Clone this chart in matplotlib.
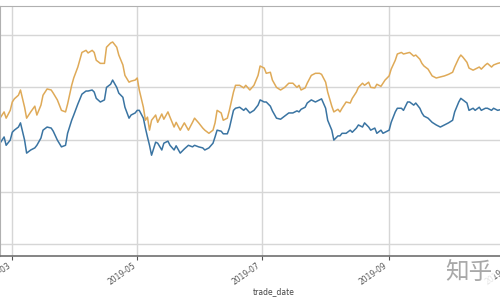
import pandas as pd
import matplotlib
matplotlib.use("Agg")
import matplotlib.pyplot as plt
import matplotlib.dates as mdates

# trade dates and the two series
trade_date = [
    "2019-02-23", "2019-02-25", "2019-02-26", "2019-02-28", "2019-03-01", "2019-03-02", "2019-03-04", "2019-03-05", "2019-03-07", "2019-03-08",
    "2019-03-10", "2019-03-12", "2019-03-13", "2019-03-15", "2019-03-16", "2019-03-18", "2019-03-20", "2019-03-21", "2019-03-23", "2019-03-25",
    "2019-03-27", "2019-03-28", "2019-03-30", "2019-03-31", "2019-04-02", "2019-04-04", "2019-04-06", "2019-04-07", "2019-04-09", "2019-04-10",
    "2019-04-11", "2019-04-13", "2019-04-15", "2019-04-16", "2019-04-18", "2019-04-19", "2019-04-21", "2019-04-22", "2019-04-24", "2019-04-25",
    "2019-04-27", "2019-04-28", "2019-04-30", "2019-05-01", "2019-05-02", "2019-05-04", "2019-05-05", "2019-05-06", "2019-05-07", "2019-05-08",
    "2019-05-10", "2019-05-11", "2019-05-13", "2019-05-14", "2019-05-16", "2019-05-17", "2019-05-19", "2019-05-20", "2019-05-22", "2019-05-24",
    "2019-05-26", "2019-05-28", "2019-05-29", "2019-05-31", "2019-06-02", "2019-06-03", "2019-06-05", "2019-06-07", "2019-06-08", "2019-06-09",
    "2019-06-11", "2019-06-12", "2019-06-14", "2019-06-15", "2019-06-17", "2019-06-18", "2019-06-20", "2019-06-22", "2019-06-23", "2019-06-25",
    "2019-06-27", "2019-06-29", "2019-06-30", "2019-07-02", "2019-07-03", "2019-07-05", "2019-07-06", "2019-07-08", "2019-07-10", "2019-07-12",
    "2019-07-14", "2019-07-16", "2019-07-18", "2019-07-19", "2019-07-20", "2019-07-22", "2019-07-23", "2019-07-25", "2019-07-27", "2019-07-29",
    "2019-07-30", "2019-08-01", "2019-08-02", "2019-08-04", "2019-08-05", "2019-08-07", "2019-08-08", "2019-08-09", "2019-08-11", "2019-08-13",
    "2019-08-14", "2019-08-16", "2019-08-17", "2019-08-19", "2019-08-20", "2019-08-22", "2019-08-23", "2019-08-25", "2019-08-26", "2019-08-28",
    "2019-08-29", "2019-08-30", "2019-09-01", "2019-09-02", "2019-09-04", "2019-09-05", "2019-09-07", "2019-09-08", "2019-09-10", "2019-09-11",
    "2019-09-13", "2019-09-14", "2019-09-16", "2019-09-17", "2019-09-18", "2019-09-20", "2019-09-22", "2019-09-24", "2019-09-26", "2019-09-28",
    "2019-09-30", "2019-10-02", "2019-10-03", "2019-10-05", "2019-10-06", "2019-10-07", "2019-10-09", "2019-10-10", "2019-10-12", "2019-10-13",
    "2019-10-15", "2019-10-16", "2019-10-18", "2019-10-19", "2019-10-21", "2019-10-22", "2019-10-24", "2019-10-26",
]

upper = [
    2.41, 2.53, 2.41, 2.56, 2.72, 2.78, 2.85, 2.95, 2.62, 2.41,
    2.53, 2.64, 2.47, 2.66, 2.85, 2.97, 2.95, 2.89, 2.76, 2.56,
    2.53, 2.68, 3.04, 3.18, 3.39, 3.67, 3.71, 3.66, 3.71, 3.67,
    3.52, 3.46, 3.46, 3.77, 3.85, 3.87, 3.77, 3.62, 3.43, 3.23,
    3.10, 3.12, 3.14, 3.18, 2.95, 2.62, 2.37, 2.43, 2.18, 2.37,
    2.47, 2.33, 2.49, 2.39, 2.53, 2.43, 2.24, 2.33, 2.18, 2.32,
    2.18, 2.33, 2.41, 2.32, 2.22, 2.18, 2.12, 2.18, 2.32, 2.56,
    2.51, 2.37, 2.41, 2.56, 2.91, 3.04, 3.04, 2.99, 3.04, 2.95,
    3.04, 3.23, 3.41, 3.37, 3.27, 3.29, 3.14, 3.00, 2.95, 3.00,
    3.08, 3.08, 3.00, 3.04, 2.95, 2.99, 3.08, 3.23, 3.27, 3.27,
    3.25, 3.10, 2.91, 2.64, 2.53, 2.58, 2.53, 2.60, 2.72, 2.70,
    2.79, 2.91, 3.00, 3.08, 3.04, 3.10, 3.00, 2.99, 3.06, 3.02,
    3.08, 3.14, 3.22, 3.35, 3.52, 3.64, 3.67, 3.64, 3.66, 3.67,
    3.60, 3.62, 3.54, 3.46, 3.41, 3.35, 3.22, 3.18, 3.20, 3.22,
    3.25, 3.29, 3.39, 3.56, 3.62, 3.58, 3.48, 3.37, 3.33, 3.35,
    3.39, 3.35, 3.43, 3.46, 3.39, 3.43, 3.46, 3.48,
]

lower = [
    1.93, 2.05, 1.89, 1.99, 2.14, 2.18, 2.24, 2.32, 1.99, 1.74,
    1.80, 1.84, 1.89, 2.03, 2.18, 2.24, 2.22, 2.16, 1.99, 1.86,
    1.89, 2.12, 2.37, 2.47, 2.68, 2.87, 2.93, 2.93, 2.95, 2.91,
    2.79, 2.72, 2.76, 3.00, 3.06, 3.14, 3.00, 2.89, 2.81, 2.62,
    2.41, 2.47, 2.51, 2.56, 2.56, 2.41, 2.22, 2.05, 1.89, 1.70,
    1.95, 1.93, 1.80, 1.93, 1.97, 1.89, 1.80, 1.88, 1.74, 1.82,
    1.89, 1.86, 1.89, 1.86, 1.84, 1.80, 1.84, 1.93, 2.05, 2.18,
    2.16, 2.11, 2.11, 2.22, 2.56, 2.60, 2.62, 2.56, 2.60, 2.51,
    2.56, 2.66, 2.76, 2.72, 2.72, 2.64, 2.55, 2.41, 2.39, 2.45,
    2.51, 2.51, 2.55, 2.53, 2.58, 2.62, 2.70, 2.76, 2.72, 2.76,
    2.78, 2.60, 2.37, 2.18, 1.99, 2.07, 2.07, 2.12, 2.12, 2.18,
    2.14, 2.22, 2.28, 2.24, 2.32, 2.24, 2.18, 2.22, 2.12, 2.18,
    2.12, 2.14, 2.18, 2.33, 2.53, 2.60, 2.60, 2.56, 2.72, 2.72,
    2.66, 2.70, 2.60, 2.51, 2.45, 2.41, 2.33, 2.28, 2.24, 2.28,
    2.32, 2.37, 2.53, 2.72, 2.79, 2.76, 2.70, 2.56, 2.60, 2.56,
    2.62, 2.56, 2.60, 2.60, 2.56, 2.60, 2.56, 2.58,
]

month_ticks = ["2019-03-01", "2019-05-01", "2019-07-01", "2019-09-01", "2019-11-01"]

df = pd.DataFrame({"trade_date": pd.to_datetime(trade_date), "upper": upper, "lower": lower})

fig = plt.figure(figsize=(5, 3), dpi=100)
# the picture is a crop: the axes run past the right edge of the image
ax = fig.add_axes([0.0, 0.147, 1.065, 0.833])

ax.plot(df["trade_date"], df["upper"], color="#dfaa58", lw=1.1)
ax.plot(df["trade_date"], df["lower"], color="#3a74a2", lw=1.1)

ax.set_xlim(pd.Timestamp("2019-02-23"), pd.Timestamp("2019-11-10"))
ax.set_ylim(-0.23, 4.56)
ax.set_yticks([0, 1, 2, 3, 4])
ax.set_xticks(pd.to_datetime(month_ticks))
ax.xaxis.set_major_formatter(mdates.DateFormatter("%Y-%m"))
ax.grid(True, color="#d6d6d6", lw=1.0)
ax.set_axisbelow(True)

for lab in ax.get_xticklabels():
    lab.set_rotation(35)
    lab.set_ha("right")
    lab.set_fontsize(5.5)
    lab.set_color("#555555")
ax.tick_params(axis="x", length=3, width=0.8, color="#555555", pad=1)
ax.tick_params(axis="y", length=0, labelleft=False)

for s in ["top", "left", "right"]:
    ax.spines[s].set_color("#b0b0b0")
ax.spines["bottom"].set_color("#707070")
ax.spines["bottom"].set_linewidth(1.2)

ax.set_xlabel("trade_date", fontsize=5.5, color="#444444")
ax.xaxis.set_label_coords(0.514, -0.125)

# watermark in the corner
fig.text(0.89, 0.07, "知乎", fontsize=17, color="#a8a8a8",
         family=["Noto Sans CJK SC", "DejaVu Sans"],
         bbox=dict(facecolor="white", edgecolor="none", alpha=0.85, pad=1))

fig.savefig("out.png", dpi=100)
